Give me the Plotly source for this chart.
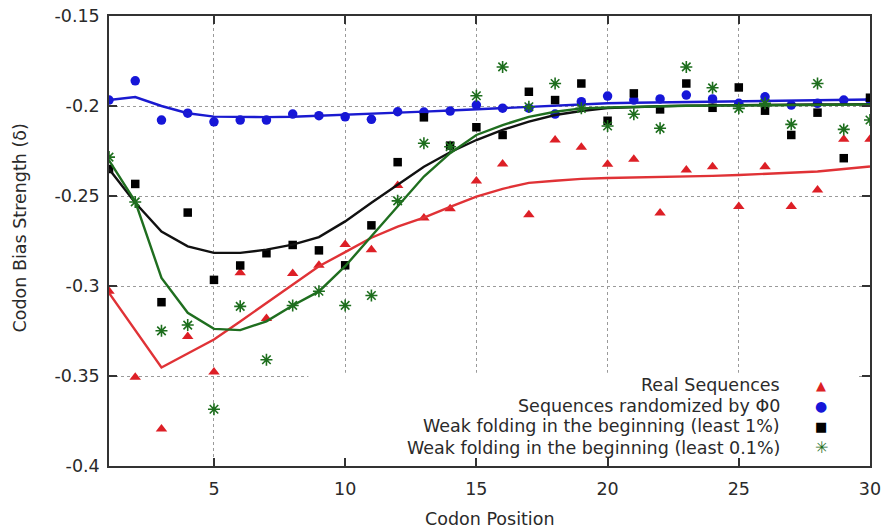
import plotly.graph_objects as go

# Codon positions along the gene start
positions = list(range(1, 31))

# Codon bias strength per position (points)
real_seq = [-0.3029, -0.3507, -0.3795, -0.3280, -0.3478, -0.2926, -0.3180, -0.2931, -0.2885, -0.2770,
            -0.2799, -0.2442, -0.2622, -0.2571, -0.2416, -0.2322, -0.2604, -0.2189, -0.2229, -0.2323,
            -0.2296, -0.2595, -0.2355, -0.2337, -0.2558, -0.2337, -0.2558, -0.2466, -0.2185, -0.2185]
randomized = [-0.1967, -0.1860, -0.2078, -0.2040, -0.2088, -0.2078, -0.2078, -0.2045, -0.2054, -0.2060,
              -0.2074, -0.2032, -0.2034, -0.2028, -0.1995, -0.2012, -0.2012, -0.2045, -0.1976, -0.1945,
              -0.1967, -0.1961, -0.1939, -0.1961, -0.1985, -0.1949, -0.1995, -0.1985, -0.1967, -0.1967]
weak_1pct = [-0.2350, -0.2433, -0.3090, -0.2592, -0.2966, -0.2886, -0.2818, -0.2772, -0.2802, -0.2885,
             -0.2663, -0.2312, -0.2063, -0.2220, -0.2118, -0.2161, -0.1921, -0.1967, -0.1875, -0.2082,
             -0.1930, -0.2019, -0.1875, -0.2010, -0.1897, -0.2026, -0.2161, -0.2037, -0.2290, -0.1954]
weak_01pct = [-0.2284, -0.2533, -0.3249, -0.3217, -0.3685, -0.3113, -0.3410, -0.3108, -0.3029, -0.3108,
              -0.3053, -0.2527, -0.2207, -0.2226, -0.1943, -0.1783, -0.2004, -0.1875, -0.2013, -0.2111,
              -0.2046, -0.2124, -0.1783, -0.1899, -0.2013, -0.1985, -0.2102, -0.1875, -0.2130, -0.2078]

# Smoothed trend per series
real_trend = [-0.3038, -0.3245, -0.3453, -0.3375, -0.3297, -0.3197, -0.3096, -0.2992, -0.2890, -0.2812,
              -0.2732, -0.2670, -0.2620, -0.2560, -0.2503, -0.2460, -0.2427, -0.2415, -0.2405, -0.2400,
              -0.2398, -0.2395, -0.2392, -0.2388, -0.2383, -0.2378, -0.2372, -0.2364, -0.2350, -0.2336]
randomized_trend = [-0.1967, -0.1950, -0.2000, -0.2040, -0.2059, -0.2062, -0.2062, -0.2060, -0.2055, -0.2050,
                    -0.2045, -0.2038, -0.2031, -0.2025, -0.2018, -0.2012, -0.2005, -0.1999, -0.1990, -0.1985,
                    -0.1982, -0.1980, -0.1978, -0.1976, -0.1974, -0.1972, -0.1970, -0.1968, -0.1966, -0.1964]
weak_1pct_trend = [-0.2350, -0.2538, -0.2697, -0.2780, -0.2816, -0.2816, -0.2798, -0.2770, -0.2728, -0.2641,
                   -0.2538, -0.2438, -0.2337, -0.2257, -0.2189, -0.2133, -0.2087, -0.2050, -0.2028, -0.2012,
                   -0.2005, -0.2001, -0.1998, -0.1996, -0.1995, -0.1994, -0.1993, -0.1992, -0.1991, -0.1990]
weak_01pct_trend = [-0.2302, -0.2531, -0.2955, -0.3149, -0.3238, -0.3245, -0.3196, -0.3108, -0.3030, -0.2890,
                    -0.2724, -0.2558, -0.2392, -0.2262, -0.2161, -0.2106, -0.2060, -0.2032, -0.2013, -0.2008,
                    -0.2004, -0.2001, -0.1999, -0.1998, -0.1997, -0.1996, -0.1995, -0.1994, -0.1993, -0.1992]

series_names = ["Real Sequences",
                "Sequences randomized by \u03a60",
                "Weak folding in the beginning (least 1%)",
                "Weak folding in the beginning (least 0.1%)"]
legend_glyphs = ["\u25b2", "\u25cf", "\u25a0", "\u2733"]
legend_glyph_sizes = [13, 14, 13, 16]

x_ticks = [5, 10, 15, 20, 25, 30]
y_ticks = [-0.15, -0.2, -0.25, -0.3, -0.35, -0.4]
y_tick_text = ["-0.15", "-0.2", "-0.25", "-0.3", "-0.35", "-0.4"]

FONT = "DejaVu Sans"
FS = 17.5
TXT = "#2a2a2a"

styles = [
    dict(pts=real_seq, fit=real_trend, color="#dd1f26", line="#e03236",
         marker=dict(symbol="triangle-up", size=10)),
    dict(pts=randomized, fit=randomized_trend, color="#1616d8", line="#1a1ad0",
         marker=dict(symbol="circle", size=9.5)),
    dict(pts=weak_1pct, fit=weak_1pct_trend, color="#000000", line="#111111",
         marker=dict(symbol="square", size=8.5)),
    dict(pts=weak_01pct, fit=weak_01pct_trend, color="#1d6e1d", line="#1f6e1f",
         marker=dict(symbol="asterisk-open", size=10)),
]

fig = go.Figure()
for name, st in zip(series_names, styles):
    mk = dict(st["marker"], color=st["color"])
    if mk["symbol"] == "asterisk-open":
        mk["line"] = dict(color=st["color"], width=1.6)
    fig.add_trace(go.Scatter(x=positions, y=st["pts"], mode="markers", name=name,
                             marker=mk, showlegend=False, hoverinfo="x+y"))
    fig.add_trace(go.Scatter(x=positions, y=st["fit"], mode="lines", name=name + " (trend)",
                             line=dict(color=st["line"], width=2.4), showlegend=False))

# key box: white panel in the lower right of the plot area
fig.add_shape(type="rect", xref="paper", yref="paper", x0=0.262, x1=0.982, y0=0.02, y1=0.207,
              fillcolor="white", line=dict(width=0), layer="above")

row_y = [0.18, 0.134, 0.088, 0.041]
for name, glyph, gsize, st, yy in zip(series_names, legend_glyphs, legend_glyph_sizes, styles, row_y):
    fig.add_annotation(xref="paper", yref="paper", x=0.8845, y=yy, text=name, showarrow=False,
                       xanchor="right", yanchor="middle", font=dict(family=FONT, size=FS, color=TXT))
    fig.add_annotation(xref="paper", yref="paper", x=0.936, y=yy, text=glyph, showarrow=False,
                       xanchor="center", yanchor="middle",
                       font=dict(family=FONT, size=gsize, color=st["color"]))

# axis titles
fig.add_annotation(xref="paper", yref="paper", x=0.5, y=-0.117, text="Codon Position", showarrow=False,
                   xanchor="center", yanchor="middle", font=dict(family=FONT, size=FS, color=TXT))
fig.add_annotation(xref="paper", yref="paper", x=-0.117, y=0.53, text="Codon Bias Strength (\u03b4)",
                   showarrow=False, textangle=-90, xanchor="center", yanchor="middle",
                   font=dict(family=FONT, size=FS, color=TXT))

axis_common = dict(
    showline=True, linecolor="#333333", linewidth=1.5, mirror="ticks",
    ticks="inside", ticklen=8, tickwidth=1.5, tickcolor="#333333",
    showgrid=True, gridcolor="#9a9a9a", griddash="dot", gridwidth=1,
    zeroline=False, automargin=False,
    tickfont=dict(family=FONT, size=FS, color=TXT),
)

fig.update_xaxes(range=[1, 30], tickvals=x_ticks, ticktext=[str(v) for v in x_ticks],
                 ticklabelstandoff=6, **axis_common)
fig.update_yaxes(range=[-0.4, -0.15], tickvals=y_ticks, ticktext=y_tick_text,
                 ticklabelstandoff=4, **axis_common)

fig.update_layout(
    width=885, height=531,
    margin=dict(l=109, r=15, t=16, b=65),
    paper_bgcolor="white", plot_bgcolor="white",
    showlegend=False,
    font=dict(family=FONT, size=FS, color=TXT),
)

fig.write_html("out.html")
